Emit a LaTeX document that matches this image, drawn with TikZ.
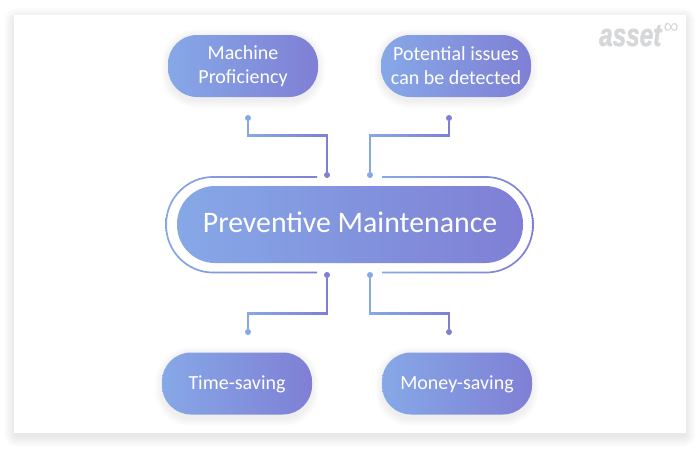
\documentclass[tikz,border=0pt]{standalone}
\usepackage{fontspec}
\setmainfont{Carlito}
\newfontfamily\logofont[BoldItalicFeatures={FakeBold=1.6}]{Liberation Sans}
\usetikzlibrary{calc}
\definecolor{lightblue}{HTML}{86A8E7}
\definecolor{darkblue}{HTML}{7F7FD5}
\definecolor{logogray}{HTML}{D6D7D9}
\tikzset{
  pillfill/.style={left color=lightblue,right color=darkblue,draw=none,text=white,align=center,inner sep=0pt},
  smallpill/.style={pillfill,minimum width=150pt,minimum height=62pt,rounded corners=29pt,font=\fontsize{20}{24}\selectfont},
  mainpill/.style={pillfill,minimum width=346pt,minimum height=77pt,rounded corners=38pt,font=\fontsize{29.8}{36}\selectfont},
  dotlight/.style={circle,fill=lightblue,draw=none,minimum size=6pt,inner sep=0pt},
  dotdark/.style={circle,fill=darkblue,draw=none,minimum size=6pt,inner sep=0pt},
  wire/.style={line width=1.7pt,line cap=butt},
  ringshade/.style={left color=lightblue,right color=darkblue,draw=none},
  logotext/.style={text=logogray,inner sep=0pt,xscale=0.76,transform shape,font=\logofont\bfseries\itshape\fontsize{32}{32}\selectfont},
  logosign/.style={text=logogray,inner sep=0pt,font=\logofont\fontsize{21}{21}\selectfont}
}
% soft shadow made of stacked translucent rounded rectangles
\newcommand{\softshadow}[7]{%
  \foreach \s in {1,...,#6}{%
    \fill[black,opacity=#7,rounded corners=#5pt+\s pt]
      (#1-\s,#2-\s) rectangle (#3+\s,#4+\s);
  }%
}
% connector: light dot, light corner, dark corner, dark dot
\newcommand{\gradwire}[4]{%
  \draw[wire,lightblue] (#1) -- ($(#2)+(0,0)$);
  \shade[left color=lightblue,right color=darkblue]
    ($(#2)+(-0.85,-0.85)$) rectangle ($(#3)+(0.85,0.85)$);
  \draw[wire,darkblue] (#3) -- (#4);
}
\begin{document}
\begin{tikzpicture}[x=1pt,y=-1pt]
\useasboundingbox (0,0) rectangle (700,450);
\fill[white] (0,0) rectangle (700,450);

% card
\softshadow{15}{19}{685}{436}{2}{11}{0.008}
\fill[white] (14,15) rectangle (686,433);

% logo
\node[logotext,anchor=base west] (logo) at (599,46) {asset};
\node[logosign,anchor=center] (logosign) at (671,28) {∞};

% pill shadows
\softshadow{169}{37}{317}{100}{27}{8}{0.009}
\softshadow{382}{37}{530}{100}{27}{8}{0.009}
\softshadow{163}{355}{311}{418}{27}{8}{0.009}
\softshadow{383}{355}{531}{418}{27}{8}{0.009}

% main pill and surrounding ring
\node[mainpill] (main) at (350,224.5) {\rule[-4pt]{0pt}{4pt}Preventive Maintenance};
\shade[ringshade]
  (317,176.1) [rounded corners=48pt] -- (165.3,176.1) -- (165.3,273.4)
  [sharp corners] -- (317,273.4) -- (317,271.7)
  [rounded corners=46.3pt] -- (167,271.7) -- (167,177.8)
  [sharp corners] -- (317,177.8) -- cycle;
\shade[ringshade]
  (382,176.1) [rounded corners=48pt] -- (533.7,176.1) -- (533.7,273.4)
  [sharp corners] -- (382,273.4) -- (382,271.7)
  [rounded corners=46.3pt] -- (532,271.7) -- (532,177.8)
  [sharp corners] -- (382,177.8) -- cycle;

% outer pills
\node[smallpill] (machine) at (243,66) {Machine\\Proficiency};
\node[smallpill] (issues) at (456,66) {Potential issues\\can be detected};
\node[smallpill] (time) at (237,383.5) {\rule{0pt}{16pt}Time-saving};
\node[smallpill] (money) at (457,383.5) {\rule{0pt}{16pt}Money-saving};

% connector end points
\node[dotlight] (tla) at (248,118) {};
\node[dotdark]  (tlb) at (327,175) {};
\node[dotdark]  (tra) at (449,118) {};
\node[dotlight] (trb) at (370,175) {};
\node[dotdark]  (bla) at (327,275) {};
\node[dotlight] (blb) at (248,332) {};
\node[dotlight] (bra) at (370,275) {};
\node[dotdark]  (brb) at (449,332) {};

\coordinate (tlc) at (248,135.5);
\coordinate (tld) at (327,135.5);
\coordinate (trc) at (370,135.5);
\coordinate (trd) at (449,135.5);
\coordinate (blc) at (248,313.5);
\coordinate (bld) at (327,313.5);
\coordinate (brc) at (370,313.5);
\coordinate (brd) at (449,313.5);

\gradwire{tla}{tlc}{tld}{tlb}
\gradwire{trb}{trc}{trd}{tra}
\gradwire{blb}{blc}{bld}{bla}
\gradwire{bra}{brc}{brd}{brb}
\end{tikzpicture}
\end{document}
